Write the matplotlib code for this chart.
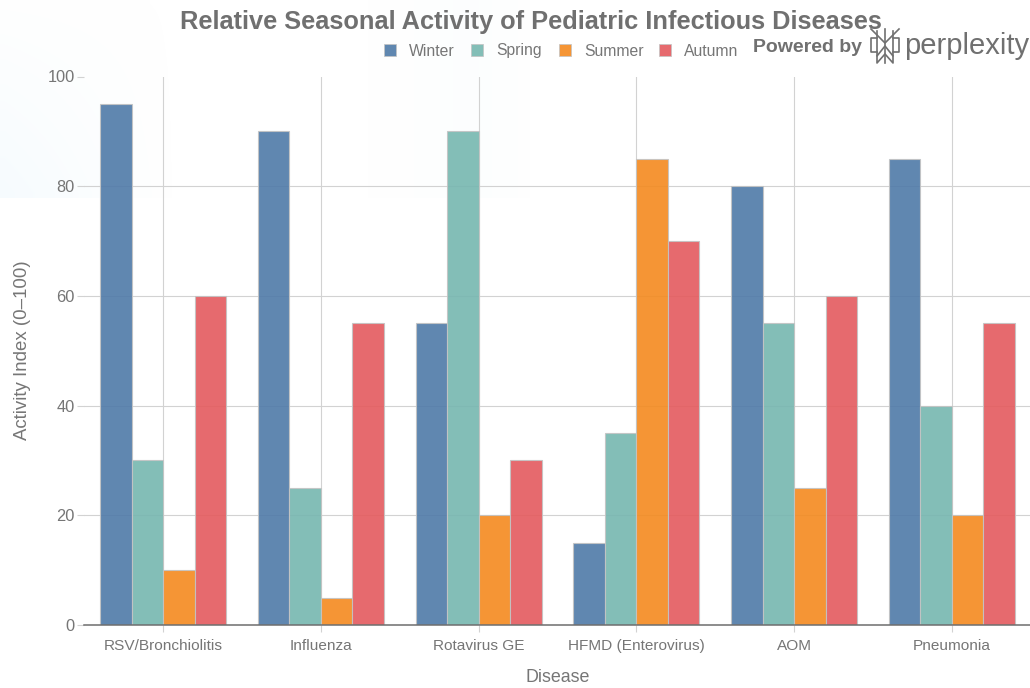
import matplotlib
matplotlib.use("Agg")
import numpy as np
import matplotlib.pyplot as plt
from matplotlib.lines import Line2D

diseases = ["RSV/Bronchiolitis", "Influenza", "Rotavirus GE", "HFMD (Enterovirus)", "AOM", "Pneumonia"]
seasons = ["Winter", "Spring", "Summer", "Autumn"]
winter = [95, 90, 55, 15, 80, 85]
spring = [30, 25, 90, 35, 55, 40]
summer = [10, 5, 20, 85, 25, 20]
autumn = [60, 55, 30, 70, 60, 55]
colors = ["#4f7aa8", "#76b7b0", "#f48a1f", "#e45a5e"]
y_ticks = [0, 20, 40, 60, 80, 100]

plt.rcParams['font.family'] = ['Liberation Sans', 'DejaVu Sans']
text_col = "#767676"

W, H = 1030, 688
fig = plt.figure(figsize=(W / 100, H / 100), dpi=100)

# faint blue wash behind the top of the chart
bg = fig.add_axes([0, 1 - 198 / H, 530 / W, 198 / H], zorder=-1)
wash = np.zeros((20, 53, 4))
wash[..., :3] = (0.90, 0.96, 0.99)
xx, yy = np.meshgrid(np.linspace(0, 530, 53), np.linspace(0, 198, 20))
wash[..., 3] = np.clip(0.3 * (1 - xx / 170) * (yy / 198 + 0.1), 0, 1) + 0.1 * np.exp(-((xx - 470) / 55) ** 2)
bg.imshow(wash, aspect="auto", interpolation="bilinear")
bg.axis("off")

ax = fig.add_axes([84.4 / W, 1 - 625 / H, (1030.6 - 84.4) / W, (625 - 76.5) / H])
ax.patch.set_alpha(0)

x = np.arange(len(diseases))
bar_w = 0.2
for i, vals in enumerate([winter, spring, summer, autumn]):
    ax.bar(x + (i - 1.5) * bar_w, vals, bar_w, color=colors[i], alpha=0.9,
           edgecolor="#c4c4c4", linewidth=0.8, zorder=3, label=seasons[i])

ax.set_xlim(-0.5, 5.5)
ax.set_ylim(0, 100)
ax.set_yticks(y_ticks)
ax.set_xticks(x)
ax.set_xticklabels(diseases)
ax.grid(True, color="#d2d2d2", linewidth=0.8, zorder=0)
ax.set_axisbelow(True)
ax.get_ygridlines()[-1].set_visible(False)
for s in ["top", "right", "left"]:
    ax.spines[s].set_visible(False)
ax.spines["bottom"].set_color("#6e6e6e")
ax.spines["bottom"].set_linewidth(1.1)
ax.spines["bottom"].set_zorder(5)
ax.tick_params(axis="y", length=5, width=0.8, color="#d2d2d2", labelsize=11.8, labelcolor=text_col, pad=2)
ax.tick_params(axis="x", length=5, width=0.8, color="#d2d2d2", labelsize=11.1, labelcolor=text_col, pad=5)

fig.text(14 / W, 1 - 350 / H, "Activity Index (0\u2013100)", rotation=90, color=text_col, fontsize=13.4, va="center", ha="left")
fig.text(558 / W, 1 - 678 / H, "Disease", color=text_col, fontsize=12.9, ha="center", va="center")
fig.text(530.5 / W, 1 - 21.5 / H, "Relative Seasonal Activity of Pediatric Infectious Diseases",
         color="#707070", fontsize=18.3, fontweight="bold", ha="center", va="center")

# legend drawn by hand so it sits tight under the title
for px, name, c in zip([390, 477, 565, 665], seasons, colors):
    fig.patches.append(plt.Rectangle(((px - 6) / W, 1 - 56 / H), 12 / W, 12 / H, transform=fig.transFigure,
                                     facecolor=c, alpha=0.9, edgecolor="#c4c4c4", linewidth=0.6))
    fig.text((px + 19) / W, 1 - 51 / H, name, color=text_col, fontsize=11.3, va="center", ha="left")

# watermark
fig.text(753 / W, 1 - 47 / H, "Powered by", color="#707070", fontsize=14, fontweight="bold", va="center", ha="left")
fig.text(904.5 / W, 1 - 46 / H, "perplexity", color="#707070", fontsize=21, va="center", ha="left")
logo = [
    [(871, 29), (885, 43), (899, 29)],
    [(885, 29), (885, 63)],
    [(877, 31), (877, 56), (885, 46), (893, 56), (893, 31)],
    [(877, 38), (871, 38), (871, 52), (877, 52)],
    [(893, 38), (899, 38), (899, 52), (893, 52)],
    [(877, 56), (877, 63), (885, 54), (893, 63), (893, 56)],
]
for seg in logo:
    fig.add_artist(Line2D([p[0] / W for p in seg], [1 - p[1] / H for p in seg],
                          color="#707070", linewidth=1.2))

fig.savefig("out.png", dpi=100)
